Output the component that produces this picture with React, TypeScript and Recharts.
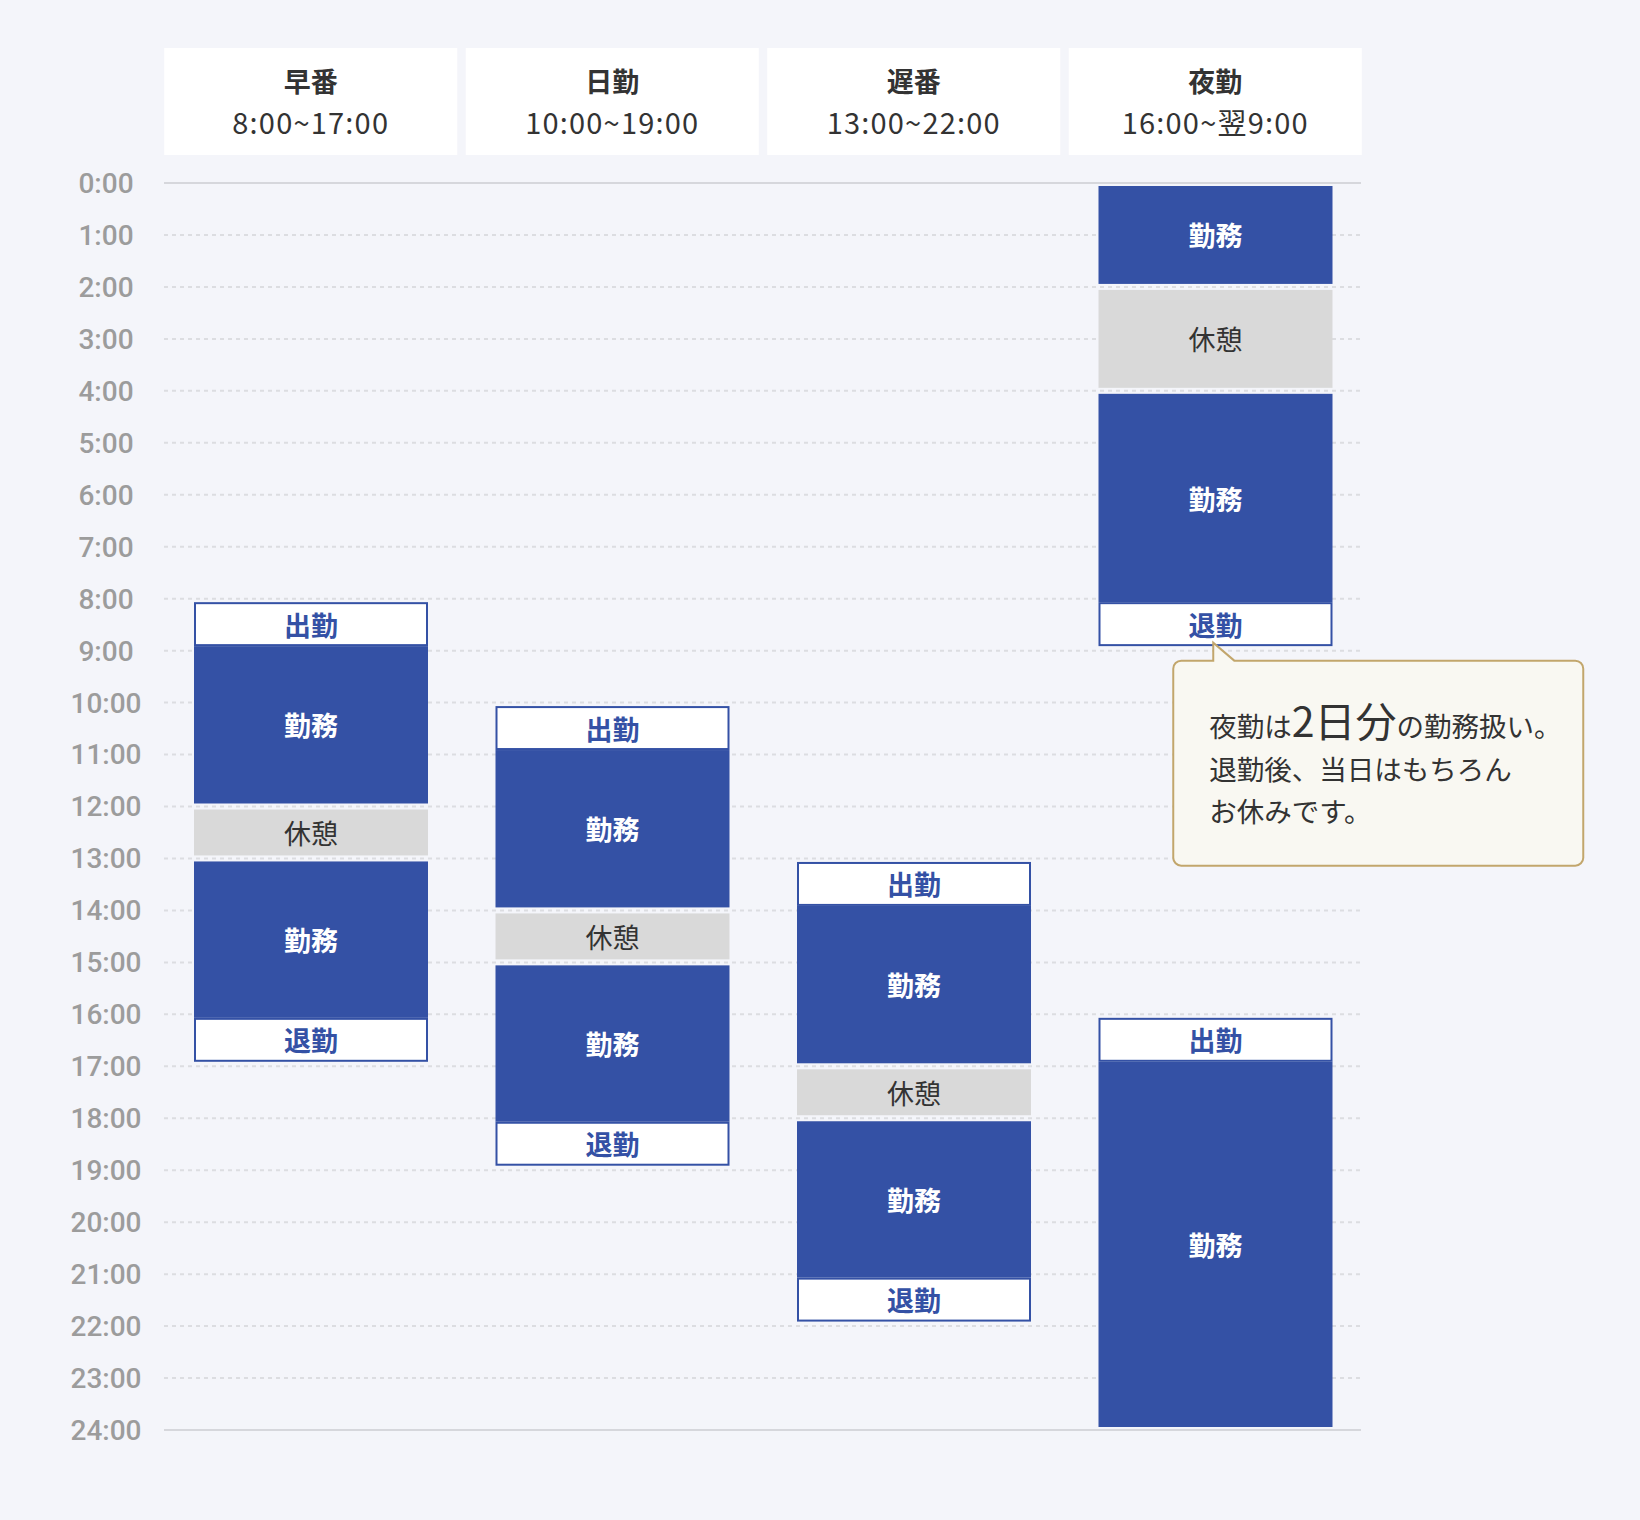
import React from 'react';
import {
  BarChart,
  Bar,
  XAxis,
  YAxis,
  CartesianGrid,
  ReferenceLine,
  ReferenceDot,
} from 'recharts';

// ---------- data ----------
const SHIFT_NAMES = ['早番', '日勤', '遅番', '夜勤'];
const SHIFT_TIMES = ['8:00~17:00', '10:00~19:00', '13:00~22:00', '16:00~翌9:00'];
const HOUR_TICKS = [0, 1, 2, 3, 4, 5, 6, 7, 8, 9, 10, 11, 12, 13, 14, 15, 16, 17, 18, 19, 20, 21, 22, 23, 24];

type Seg = [string, number, number];
const EARLY_SEGMENTS: Seg[] = [['in', 8, 9], ['work', 9, 12], ['rest', 12, 13], ['work', 13, 16], ['out', 16, 17]];
const DAY_SEGMENTS: Seg[] = [['in', 10, 11], ['work', 11, 14], ['rest', 14, 15], ['work', 15, 18], ['out', 18, 19]];
const LATE_SEGMENTS: Seg[] = [['in', 13, 14], ['work', 14, 17], ['rest', 17, 18], ['work', 18, 21], ['out', 21, 22]];
const NIGHT_SEGMENTS: Seg[] = [['work', 0, 2], ['rest', 2, 4], ['work', 4, 8], ['out', 8, 9], ['in', 16, 17], ['work', 17, 24]];
const SEGMENTS_BY_SHIFT = [EARLY_SEGMENTS, DAY_SEGMENTS, LATE_SEGMENTS, NIGHT_SEGMENTS];

const SEGMENT_LABELS: Record<string, string> = { in: '出勤', out: '退勤', work: '勤務', rest: '休憩' };

const CALLOUT_SHIFT = '夜勤';
const CALLOUT_HOUR = 9;
const CALLOUT_LINE1 = ['夜勤は', '2日分', 'の勤務扱い。'];
const CALLOUT_LINE2 = '退勤後、当日はもちろん';
const CALLOUT_LINE3 = 'お休みです。';

// ---------- build stacked table ----------
const rows: any[] = SHIFT_NAMES.map((name, i) => {
  const row: any = { name };
  let cursor = 0;
  let k = 0;
  for (const [type, from, to] of SEGMENTS_BY_SHIFT[i]) {
    if (from > cursor) {
      row[`v${k}`] = from - cursor;
      row[`t${k}`] = 'gap';
      k++;
    }
    row[`v${k}`] = to - from;
    row[`t${k}`] = type;
    k++;
    cursor = to;
  }
  row.count = k;
  return row;
});
const SERIES_COUNT = Math.max(...rows.map((r) => r.count));
rows.forEach((r) => {
  for (let k = 0; k < SERIES_COUNT; k++) {
    if (r[`v${k}`] === undefined) {
      r[`v${k}`] = 0;
      r[`t${k}`] = 'none';
    }
  }
});
const SERIES_KEYS = Array.from({ length: SERIES_COUNT }, (_, k) => k);

// ---------- styles ----------
const BLUE = '#3451a5';
const REST_GRAY = '#d9d9d9';
const BG = '#f4f5fa';
const TEXT = '#333333';
const JP = '"Noto Sans CJK JP", "Noto Sans", sans-serif';

const makeShape = (k: number) => (props: any) => {
  const { x, y, width, height, payload } = props;
  if (!payload) return <g />;
  const type = payload[`t${k}`];
  if (!type || type === 'gap' || type === 'none') return <g />;
  const prev = payload[`t${k - 1}`];
  const next = payload[`t${k + 1}`];
  let top = Math.min(y, y + height);
  let bottom = Math.max(y, y + height);
  const cx = x + width / 2;

  if (type === 'in' || type === 'out') {
    top += 3.5;
    bottom -= 4.5;
    return (
      <g>
        <rect x={x + 1} y={top + 1} width={width - 2} height={bottom - top - 2} fill="#ffffff" stroke={BLUE} strokeWidth={2} />
        <text x={cx} y={(top + bottom) / 2} textAnchor="middle" dominantBaseline="central" fontSize={27} fontWeight={700} fill={BLUE} fontFamily={JP}>
          {SEGMENT_LABELS[type]}
        </text>
      </g>
    );
  }
  if (type === 'work') {
    top += prev === 'in' ? -4.5 : 3;
    bottom += next === 'out' ? 3.5 : -3;
    return (
      <g>
        <rect x={x} y={top} width={width} height={bottom - top} fill={BLUE} />
        <text x={cx} y={(top + bottom) / 2} textAnchor="middle" dominantBaseline="central" fontSize={27} fontWeight={700} fill="#ffffff" fontFamily={JP}>
          {SEGMENT_LABELS[type]}
        </text>
      </g>
    );
  }
  // rest
  top += 3;
  bottom -= 3;
  return (
    <g>
      <rect x={x} y={top} width={width} height={bottom - top} fill={REST_GRAY} />
      <text x={cx} y={(top + bottom) / 2} textAnchor="middle" dominantBaseline="central" fontSize={27} fontWeight={400} fill={TEXT} fontFamily={JP}>
        {SEGMENT_LABELS[type]}
      </text>
    </g>
  );
};

const HeaderTick = (props: any) => {
  const { x, y, payload } = props;
  const i = SHIFT_NAMES.indexOf(payload.value);
  return (
    <g>
      <rect x={x - 146.5} y={y - 135} width={293} height={107} fill="#ffffff" />
      <text x={x} y={y - 103} textAnchor="middle" dominantBaseline="central" fontSize={27} fontWeight={700} fill={TEXT} fontFamily={JP}>
        {payload.value}
      </text>
      <text x={x} y={y - 62} textAnchor="middle" dominantBaseline="central" fontSize={29} fontWeight={400} letterSpacing={1.2} fill={TEXT} fontFamily={JP}>
        {SHIFT_TIMES[i]}
      </text>
    </g>
  );
};

const CalloutShape = (props: any) => {
  const { cx, cy } = props;
  if (cx == null || cy == null) return <g />;
  const L = cx - 42;
  const R = cx + 368;
  const T = cy + 10;
  const B = cy + 215;
  const r = 8;
  const px = cx - 2;
  const px2 = cx + 19;
  const tipY = cy - 8;
  const d = [
    `M ${L + r} ${T}`,
    `L ${px} ${T}`,
    `L ${px} ${tipY}`,
    `L ${px2} ${T}`,
    `L ${R - r} ${T}`,
    `A ${r} ${r} 0 0 1 ${R} ${T + r}`,
    `L ${R} ${B - r}`,
    `A ${r} ${r} 0 0 1 ${R - r} ${B}`,
    `L ${L + r} ${B}`,
    `A ${r} ${r} 0 0 1 ${L} ${B - r}`,
    `L ${L} ${T + r}`,
    `A ${r} ${r} 0 0 1 ${L + r} ${T}`,
    'Z',
  ].join(' ');
  const tx = cx - 6;
  return (
    <g>
      <path d={d} fill="#f9f8f2" stroke="#c2a66c" strokeWidth={2} />
      <text x={tx} y={cy + 86} fontSize={27.5} fill={TEXT} fontFamily={JP}>
        <tspan>{CALLOUT_LINE1[0]}</tspan>
        <tspan fontSize={41}>{CALLOUT_LINE1[1]}</tspan>
        <tspan>{CALLOUT_LINE1[2]}</tspan>
      </text>
      <text x={tx} y={cy + 129} fontSize={27.5} fill={TEXT} fontFamily={JP}>
        {CALLOUT_LINE2}
      </text>
      <text x={tx} y={cy + 171} fontSize={27.5} fill={TEXT} fontFamily={JP}>
        {CALLOUT_LINE3}
      </text>
    </g>
  );
};

export default function App() {
  return (
    <div style={{ position: 'absolute', left: 0, top: 0, width: 1640, height: 1520, background: BG, overflow: 'hidden' }}>
      <BarChart width={1640} height={1520} data={rows} margin={{ top: 0, right: 279, bottom: 90, left: 0 }}>
        <CartesianGrid horizontal vertical={false} stroke="#dcdde1" strokeWidth={2} strokeDasharray="4 4" />
        <XAxis
          dataKey="name"
          type="category"
          orientation="top"
          height={183}
          axisLine={false}
          tickLine={false}
          tickSize={0}
          tickMargin={0}
          interval={0}
          padding={{ left: -4, right: -5 }}
          tick={<HeaderTick />}
        />
        <YAxis
          type="number"
          domain={[0, 24]}
          reversed
          ticks={HOUR_TICKS}
          interval={0}
          width={164}
          axisLine={false}
          tickLine={false}
          tickSize={0}
          tickMargin={58}
          tickFormatter={(h: number) => `${h}:00`}
          tick={{ fill: '#9c9c9c', fontSize: 28, fontWeight: 500, fontFamily: 'Roboto, sans-serif', textAnchor: 'middle' }}
        />
        <ReferenceLine y={0} stroke="#d6d7dc" strokeWidth={2} />
        <ReferenceLine y={24} stroke="#d6d7dc" strokeWidth={2} />
        {SERIES_KEYS.map((k) => (
          <Bar
            key={k}
            dataKey={`v${k}`}
            stackId="shift"
            barSize={234}
            isAnimationActive={false}
            shape={makeShape(k)}
          />
        ))}
        <ReferenceDot x={CALLOUT_SHIFT} y={CALLOUT_HOUR} ifOverflow="visible" shape={CalloutShape} />
      </BarChart>
    </div>
  );
}
